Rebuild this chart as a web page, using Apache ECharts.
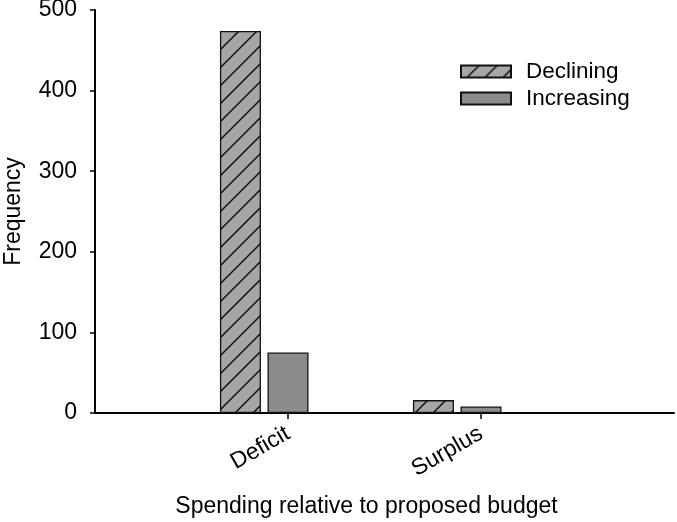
<!DOCTYPE html>
<html>
<head>
<meta charset="utf-8">
<script src="https://cdn.jsdelivr.net/npm/echarts@6/dist/echarts.min.js"></script>
<style>html,body{margin:0;padding:0;background:#fff}#c{width:677px;height:522px}</style>
</head>
<body>
<div id="c"></div>
<script>
// Data
var categories = ['Deficit', 'Surplus'];
var seriesNames = ['Declining', 'Increasing'];
var declining = [474, 16];
var increasing = [75, 8];
var yTicks = [0, 100, 200, 300, 400, 500];

// pad with empty categories at both ends (axis runs from 0 to 3 units)
var axisCats = [''].concat(categories, ['']);
function pad(arr) { return [null].concat(arr, [null]); }

function hatch() {
  var s = 18;
  var cv = document.createElement('canvas');
  cv.width = s; cv.height = s;
  var g = cv.getContext('2d');
  g.fillStyle = '#a6a6a6';
  g.fillRect(0, 0, s, s);
  g.strokeStyle = '#111';
  g.lineWidth = 1.5;
  g.beginPath();
  g.moveTo(-2, s + 2); g.lineTo(s + 2, -2);
  g.moveTo(-2, 2); g.lineTo(2, -2);
  g.moveTo(s - 2, s + 2); g.lineTo(s + 2, s - 2);
  g.stroke();
  return { image: cv, repeat: 'repeat' };
}

var font = 'Liberation Sans, Arial, sans-serif';
var fs = 23;
var chart = echarts.init(document.getElementById('c'), null, { renderer: 'canvas' });
chart.setOption({
  animation: false,
  backgroundColor: '#fff',
  textStyle: { fontFamily: font, color: '#000' },
  legend: {
    data: seriesNames,
    orient: 'vertical',
    left: 460, top: 60,
    padding: 0,
    itemWidth: 50, itemHeight: 12, itemGap: 4,
    icon: 'rect',
    textStyle: { fontSize: 22.5, color: '#000', fontFamily: font, padding: [0, 0, 0, 10] }
  },
  grid: { left: 95, right: 3, top: 10, bottom: 109, containLabel: false, outerBoundsMode: 'none' },
  xAxis: {
    type: 'category',
    data: axisCats,
    boundaryGap: false,
    name: 'Spending relative to proposed budget',
    nameLocation: 'middle',
    nameGap: 82,
    nameTextStyle: { fontSize: fs, color: '#000', fontFamily: font, padding: [0, 36, 0, 0] },
    axisLine: { lineStyle: { color: '#000', width: 2 } },
    axisTick: { show: true, length: 6, lineStyle: { color: '#000', width: 1.5 },
      interval: function (i, v) { return v !== ''; } },
    axisLabel: { fontSize: fs, color: '#000', fontFamily: font, rotate: 30, margin: 19,
      interval: function (i, v) { return v !== ''; } },
    splitLine: { show: false }
  },
  yAxis: {
    type: 'value',
    min: 0, max: 500, interval: 100,
    name: 'Frequency',
    nameLocation: 'middle',
    nameGap: 70,
    nameTextStyle: { fontSize: fs, color: '#000', fontFamily: font },
    axisLine: { show: true, lineStyle: { color: '#000', width: 2 } },
    axisTick: { show: true, length: 5, lineStyle: { color: '#000', width: 1.5 } },
    axisLabel: { fontSize: fs, color: '#000', fontFamily: font, margin: 18,
      formatter: function (v) { return yTicks.indexOf(v) >= 0 ? String(v) : ''; } },
    splitLine: { show: false }
  },
  series: [
    { name: seriesNames[0], type: 'bar', data: pad(declining), barWidth: 41, barGap: '16%',
      itemStyle: { color: hatch(), borderColor: '#111', borderWidth: 1.3 } },
    { name: seriesNames[1], type: 'bar', data: pad(increasing), barWidth: 41, barGap: '16%',
      itemStyle: { color: '#8c8c8c', borderColor: '#111', borderWidth: 1.3 } },
    { name: 'spacer', type: 'bar', data: pad([null, null]), barWidth: 41, barGap: '16%',
      itemStyle: { color: 'transparent' } }
  ]
});
</script>
</body>
</html>
